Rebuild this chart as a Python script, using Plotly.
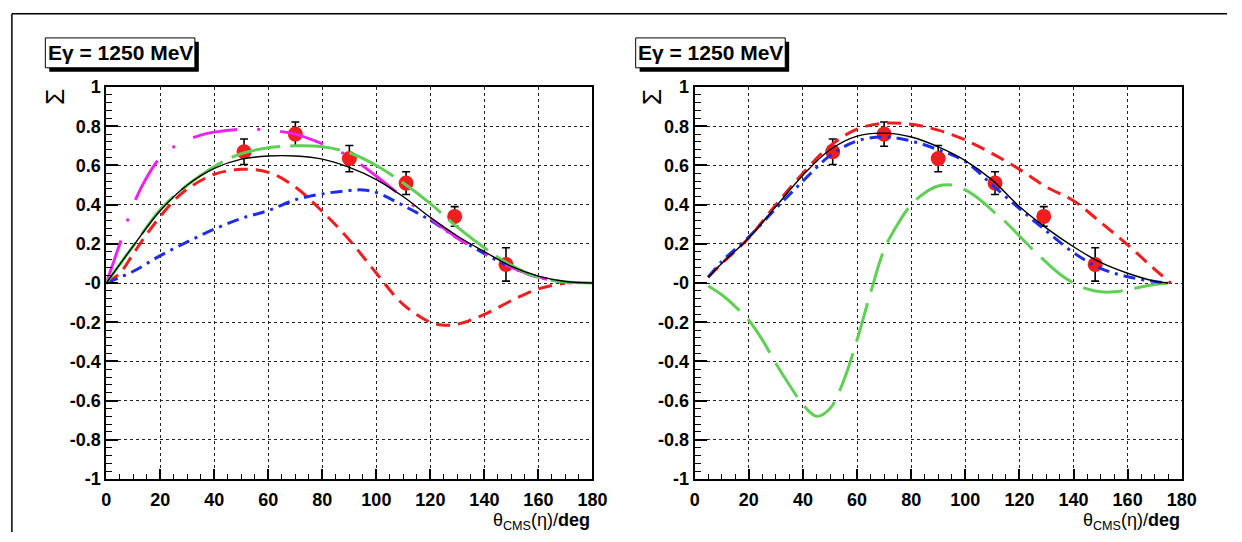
import plotly.graph_objects as go

W, H = 1242, 542

# ---- measured beam asymmetry (same data on both panels) ----
data_theta = [51, 70, 90, 111, 129, 148]
data_sigma = [0.67, 0.76, 0.635, 0.51, 0.34, 0.095]
data_err = [0.065, 0.062, 0.067, 0.058, 0.05, 0.085]

# ---- left panel model curves ----
l_black_theta = [0, 10, 20, 30, 40, 50, 60, 70, 80, 90, 100, 110, 120, 130, 140, 150, 160, 170, 180]
l_black = [0, 0.19, 0.37, 0.50, 0.585, 0.632, 0.648, 0.648, 0.632, 0.59, 0.528, 0.44, 0.335, 0.24, 0.16, 0.085, 0.035, 0.008, 0]

l_green_theta = [0, 10, 20, 30, 40, 50, 60, 70, 80, 90, 100, 110, 120, 130, 140, 150, 160, 170, 180]
l_green = [0, 0.19, 0.375, 0.50, 0.595, 0.66, 0.69, 0.70, 0.695, 0.665, 0.60, 0.51, 0.405, 0.285, 0.18, 0.09, 0.03, 0.006, 0]

l_magenta_theta = [0, 5, 10, 15, 20, 25, 30, 35, 40, 50, 60, 70, 80, 90, 100, 110, 120, 130, 140, 150, 160, 172]
l_magenta = [0, 0.2, 0.40, 0.54, 0.64, 0.695, 0.73, 0.755, 0.77, 0.785, 0.78, 0.76, 0.71, 0.645, 0.545, 0.435, 0.33, 0.23, 0.148, 0.08, 0.03, 0]

l_blue_theta = [0, 10, 20, 30, 40, 50, 60, 70, 80, 90, 95, 100, 110, 120, 130, 140, 150, 160, 170, 175]
l_blue = [0, 0.06, 0.14, 0.21, 0.275, 0.33, 0.37, 0.425, 0.455, 0.472, 0.475, 0.462, 0.395, 0.32, 0.23, 0.15, 0.08, 0.03, 0.005, 0]

l_red_theta = [0, 5, 10, 15, 20, 25, 30, 40, 50, 60, 70, 80, 90, 100, 110, 120, 125, 130, 140, 150, 160, 170]
l_red = [0, 0.05, 0.15, 0.25, 0.34, 0.42, 0.48, 0.555, 0.58, 0.565, 0.49, 0.365, 0.22, 0.05, -0.11, -0.2, -0.215, -0.21, -0.16, -0.09, -0.03, 0]

# ---- right panel model curves ----
r_black_theta = [5, 10, 20, 30, 40, 50, 60, 70, 80, 90, 100, 110, 120, 130, 140, 150, 160, 170, 175]
r_black = [0.03, 0.10, 0.23, 0.39, 0.55, 0.68, 0.75, 0.765, 0.745, 0.695, 0.625, 0.525, 0.39, 0.28, 0.185, 0.105, 0.05, 0.01, 0]

r_blue_theta = [5, 10, 20, 30, 40, 50, 60, 70, 80, 90, 100, 110, 120, 130, 140, 150, 160, 170, 175]
r_blue = [0.03, 0.11, 0.235, 0.38, 0.52, 0.65, 0.725, 0.745, 0.725, 0.68, 0.62, 0.50, 0.38, 0.265, 0.155, 0.075, 0.032, 0.008, 0]

r_red_theta = [5, 10, 20, 30, 40, 50, 60, 70, 80, 90, 100, 110, 120, 130, 140, 150, 160, 170, 176]
r_red = [0.03, 0.10, 0.23, 0.40, 0.56, 0.70, 0.785, 0.815, 0.81, 0.78, 0.73, 0.66, 0.58, 0.49, 0.42, 0.31, 0.195, 0.07, 0]

r_green_theta = [5, 10, 15, 20, 25, 30, 35, 40, 45, 50, 55, 60, 65, 70, 75, 80, 85, 90, 95, 100, 105, 110,
                 115, 120, 125, 130, 135, 140, 145, 150, 155, 160, 165, 170, 175]
r_green = [-0.015, -0.06, -0.12, -0.19, -0.29, -0.41, -0.52, -0.62, -0.68, -0.64, -0.50, -0.29, -0.05, 0.17,
           0.30, 0.40, 0.46, 0.495, 0.50, 0.475, 0.43, 0.37, 0.31, 0.24, 0.17, 0.105, 0.045, 0.0, -0.03,
           -0.045, -0.045, -0.035, -0.02, -0.008, 0]

x_ticks = [0, 20, 40, 60, 80, 100, 120, 140, 160, 180]
y_ticks = [-1, -0.8, -0.6, -0.4, -0.2, 0, 0.2, 0.4, 0.6, 0.8, 1]
y_ticktext = ['-1', '-0.8', '-0.6', '-0.4', '-0.2', '-0', '0.2', '0.4', '0.6', '0.8', '1']
panel_label = "Eγ = 1250 MeV"

RED = "#f01e1e"
BLUE = "#1e2ee6"
GREEN = "#5fcf55"
MAGENTA = "#ee22ee"
FONT = "Liberation Sans"


def px(x):
    return x / W


def py(y):
    return 1 - y / H


fig = go.Figure()


def add_points(xa, ya):
    fig.add_trace(go.Scatter(
        x=data_theta, y=data_sigma, mode="markers", xaxis=xa, yaxis=ya,
        marker=dict(color=RED, size=15, line=dict(width=0)),
        error_y=dict(type="data", array=data_err, color="black", thickness=1.6, width=4),
        showlegend=False, hoverinfo="skip"))


def add_curve(xa, ya, x, y, color, width, dash):
    fig.add_trace(go.Scatter(
        x=x, y=y, mode="lines", xaxis=xa, yaxis=ya,
        line=dict(color=color, width=width, dash=dash, shape="spline", smoothing=1.0),
        showlegend=False, hoverinfo="skip"))


# left panel
add_points("x", "y")
add_curve("x", "y", l_red_theta, l_red, RED, 3, "14px,8px")
add_curve("x", "y", l_blue_theta, l_blue, BLUE, 3, "12px,6px,3px,6px")
add_curve("x", "y", l_magenta_theta, l_magenta, MAGENTA, 3, "45px,20px,3px,20px")
add_curve("x", "y", l_green_theta, l_green, GREEN, 3, "50px,10px")
add_curve("x", "y", l_black_theta, l_black, "black", 1.4, "solid")

# right panel
add_points("x2", "y2")
add_curve("x2", "y2", r_green_theta, r_green, GREEN, 3, "40px,12px")
add_curve("x2", "y2", r_red_theta, r_red, RED, 3, "14px,8px")
add_curve("x2", "y2", r_blue_theta, r_blue, BLUE, 3, "12px,6px,3px,6px")
add_curve("x2", "y2", r_black_theta, r_black, "black", 1.4, "solid")

tickfont = dict(family=FONT, size=18, color="black", weight="bold")

xaxis_common = dict(
    range=[0, 180], tickmode="array", tickvals=x_ticks, ticks="inside", ticklen=10,
    tickwidth=1.5, tickcolor="black", showline=True, linecolor="black", linewidth=2,
    mirror=True, showgrid=True, gridcolor="#222", gridwidth=1, griddash="3px,3px",
    zeroline=False, tickfont=tickfont, ticklabelstandoff=3,
    minor=dict(tickmode="linear", tick0=0, dtick=5, ticks="inside", ticklen=5,
               tickcolor="black", tickwidth=1.2, showgrid=False),
)
yaxis_common = dict(
    range=[-1, 1], tickmode="array", tickvals=y_ticks, ticktext=y_ticktext, ticks="inside",
    ticklen=12, tickwidth=1.5, tickcolor="black", showline=True, linecolor="black",
    linewidth=2, mirror=True, showgrid=True, gridcolor="#222", gridwidth=1,
    griddash="3px,3px", zeroline=False, tickfont=tickfont,
    minor=dict(tickmode="linear", tick0=-1, dtick=0.04, ticks="inside", ticklen=6,
               tickcolor="black", tickwidth=1.2, showgrid=False),
)

y_dom = [py(487), py(80)]
fig.update_layout(
    width=W, height=H, margin=dict(l=0, r=0, t=0, b=0),
    paper_bgcolor="white", plot_bgcolor="white", showlegend=False,
    xaxis=dict(domain=[px(103), px(597)], anchor="y", **xaxis_common),
    yaxis=dict(domain=y_dom, anchor="x", **yaxis_common),
    xaxis2=dict(domain=[px(701), px(1196)], anchor="y2", **xaxis_common),
    yaxis2=dict(domain=y_dom, anchor="x2", **yaxis_common),
)

shapes = [
    # outer frame (top and left edges)
    dict(type="line", xref="paper", yref="paper", x0=px(7), x1=1, y0=py(4), y1=py(4),
         line=dict(color="black", width=1.5)),
    dict(type="line", xref="paper", yref="paper", x0=px(7), x1=px(7), y0=py(4), y1=0,
         line=dict(color="black", width=1.5)),
]
annotations = []
for bx, ax_right, sx in [(41, 597, 50), (641, 1196, 657)]:
    # label box with drop shadow
    shapes.append(dict(type="rect", xref="paper", yref="paper",
                       x0=px(bx + 4), x1=px(bx + 156), y0=py(64), y1=py(33),
                       fillcolor="black", line=dict(width=0)))
    shapes.append(dict(type="rect", xref="paper", yref="paper",
                       x0=px(bx), x1=px(bx + 152), y0=py(60), y1=py(29),
                       fillcolor="white", line=dict(color="black", width=1)))
    annotations.append(dict(xref="paper", yref="paper", x=px(bx + 76), y=py(44.5),
                            text=panel_label, showarrow=False, xanchor="center", yanchor="middle",
                            font=dict(family=FONT, size=21, color="black", weight="bold")))
    # y-axis title
    annotations.append(dict(xref="paper", yref="paper", x=px(sx), y=py(90), text="Σ",
                            textangle=-90, showarrow=False, xanchor="center", yanchor="middle",
                            font=dict(family=FONT, size=26, color="black")))
    # x-axis title
    annotations.append(dict(xref="paper", yref="paper", x=px(ax_right), y=py(531),
                            text="θ<sub>CMS</sub>(η)/<b>deg</b>", showarrow=False,
                            xanchor="right", yanchor="middle",
                            font=dict(family=FONT, size=18, color="black")))

fig.update_layout(shapes=shapes, annotations=annotations)
fig.write_html("out.html", config={"displayModeBar": False})
